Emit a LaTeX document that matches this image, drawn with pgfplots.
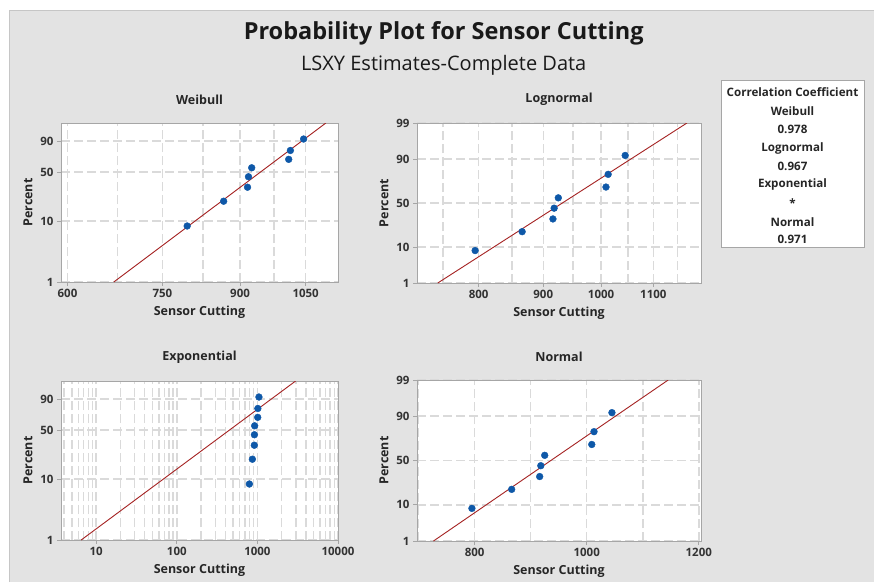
\documentclass[border=0pt]{standalone}
\usepackage{fontspec}
\setmainfont{Open Sans}
\usepackage{pgfplots}
\pgfplotsset{compat=1.18}

\definecolor{panel}{HTML}{E3E3E3}
\definecolor{frame}{HTML}{A6A6A6}
\definecolor{gridc}{HTML}{DADADA}
\definecolor{ptblue}{RGB}{14,88,168}
\definecolor{fitred}{RGB}{165,35,35}

% probability plot look (Minitab style)
\pgfplotsset{
  pplot/.style={
    scale only axis,
    axis background/.style={fill=white},
    axis line style={draw=frame, line width=0.9pt},
    tick align=outside,
    xtick pos=left, ytick pos=left,
    major tick length=4pt, minor tick length=0pt,
    tick style={draw=frame, line width=0.8pt},
    grid=both,
    major grid style={draw=gridc, line width=1.5pt, dash pattern=on 9pt off 4pt},
    minor grid style={draw=gridc, line width=1.5pt, dash pattern=on 9pt off 4pt},
    tick label style={font=\fontsize{11.5}{13}\selectfont\bfseries, text=black!80},
    xlabel={Sensor Cutting}, ylabel={Percent},
    every axis title/.style={at={(axis description cs:0.5,1)}, yshift=23.5pt, anchor=center,
      font=\fontsize{12.5}{14}\selectfont\bfseries, text=black!85},
    every axis x label/.style={at={(axis description cs:0.5,0)}, yshift=-30pt, anchor=center,
      font=\fontsize{12.5}{14}\selectfont\bfseries, text=black!85},
    every axis y label/.style={at={(axis description cs:0,0.5)}, xshift=-33pt, rotate=90, anchor=center,
      font=\fontsize{12.5}{14}\selectfont\bfseries, text=black!85},
  },
  fit/.style={fitred, line width=0.9pt},
  pts/.style={only marks, mark=*, mark size=3.4pt, mark options={fill=ptblue, draw=ptblue}},
}

% weibull scale: ln(-ln(1-p)), normal scale: z(p)
\pgfplotstableread{
x     w        z
795   -2.4417  -1.3830
866   -1.4867  -0.8335
916   -0.9474  -0.4637
918   -0.5436  -0.1500
925   -0.1986   0.1500
1009   0.1266   0.4637
1013   0.4685   0.8335
1045   0.9102   1.3830
}\sensor

\begin{document}
\begin{tikzpicture}
\path[use as bounding box, fill=white] (0,0) rectangle (874pt,-582pt);
\fill[panel] (9pt,-10pt) rectangle (874pt,-582pt);
\draw[gray!45] (9pt,-582pt) -- (9pt,-10pt) -- (874pt,-10pt);

\node[anchor=base, text=black!90, font=\fontsize{23.5}{26}\selectfont\bfseries] at (443.7pt,-39.3pt) {Probability Plot for Sensor Cutting};
\node[anchor=base, text=black!90, font=\fontsize{20}{23}\selectfont] at (443.7pt,-70pt) {LSXY Estimates-Complete Data};

% Weibull
\begin{axis}[pplot, at={(61pt,-282pt)}, anchor=south west, width=277pt, height=159pt,
  title={Weibull}, xmode=log, xmin=591, xmax=1133,
  xtick={600,750,900,1050}, xticklabels={600,750,900,1050},
  minor xtick={675,825,975},
  ymin=-4.6002, ymax=1.5272,
  ytick={-4.6002,-2.2504,-0.3665,0.8340}, yticklabels={1,10,50,90}]
\addplot[fit] coordinates {(669.0,-4.6002) (1101,1.5272)};
\addplot[pts] table[x=x, y=w] {\sensor};
\end{axis}

% Lognormal
\begin{axis}[pplot, at={(417pt,-283pt)}, anchor=south west, width=284pt, height=160pt,
  title={Lognormal}, xmode=log, xmin=715, xmax=1200,
  xtick={800,900,1000,1100}, xticklabels={800,900,1000,1100},
  minor xtick={750,850,950,1050,1150},
  ymin=-2.3263, ymax=2.3263,
  ytick={-2.3263,-1.2816,0,1.2816,2.3263}, yticklabels={1,10,50,90,99}]
\addplot[fit] coordinates {(742.6,-2.3263) (1169.5,2.3263)};
\addplot[pts] table[x=x, y=z] {\sensor};
\end{axis}

% Exponential
\begin{axis}[pplot, at={(61pt,-540pt)}, anchor=south west, width=277pt, height=159pt,
  title={Exponential}, xmode=log, xmin=3.66, xmax=10000,
  xtick={10,100,1000,10000}, xticklabels={10,100,1000,10000},
  minor xtick={4,5,6,7,8,9,20,30,40,50,60,70,80,90,200,300,400,500,600,700,800,900,2000,3000,4000,5000,6000,7000,8000,9000},
  ymin=-4.6002, ymax=1.5272,
  ytick={-4.6002,-2.2504,-0.3665,0.8340}, yticklabels={1,10,50,90}]
\addplot[fit] coordinates {(6.506,-4.6002) (2980.9,1.5272)};
\addplot[pts] table[x=x, y=w] {\sensor};
\end{axis}

% Normal
\begin{axis}[pplot, at={(417pt,-541pt)}, anchor=south west, width=284pt, height=161pt,
  title={Normal}, xmin=697, xmax=1204,
  xtick={800,1000,1200}, xticklabels={800,1000,1200}, minor xtick={700,900,1100},
  ymin=-2.3263, ymax=2.3263,
  ytick={-2.3263,-1.2816,0,1.2816,2.3263}, yticklabels={1,10,50,90,99}]
\addplot[fit] coordinates {(726.4,-2.3263) (1145.4,2.3263)};
\addplot[pts] table[x=x, y=z] {\sensor};
\end{axis}

% correlation box
\draw[frame, fill=white] (721pt,-80pt) rectangle (864pt,-247pt);
\begin{scope}[every node/.style={anchor=center, text=black!85, font=\fontsize{11.6}{13}\selectfont\bfseries}]
\node at (792.5pt,-91.7pt) {Correlation Coefficient};
\node at (792.5pt,-110.7pt) {Weibull};
\node at (792.5pt,-129.3pt) {0.978};
\node at (792.5pt,-148.3pt) {Lognormal};
\node at (792.5pt,-166.7pt) {0.967};
\node at (792.5pt,-184.3pt) {Exponential};
\node at (792.5pt,-203pt) {*};
\node at (792.5pt,-221.7pt) {Normal};
\node at (792.5pt,-239.3pt) {0.971};
\end{scope}
\end{tikzpicture}
\end{document}
